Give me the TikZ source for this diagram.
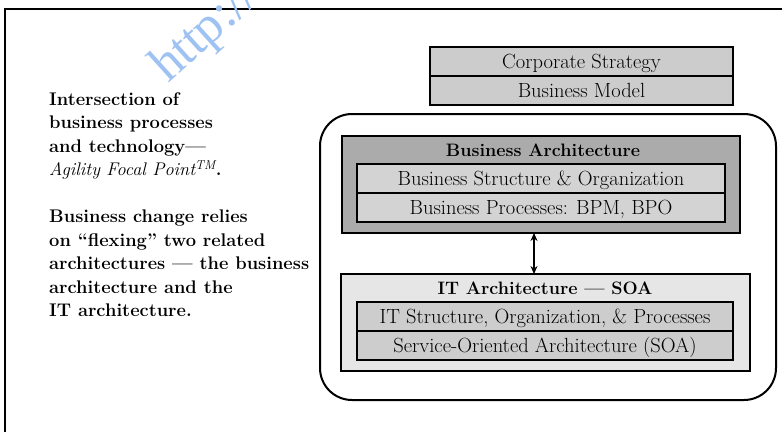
\documentclass[tikz,border=0pt]{standalone}
\usepackage{fontspec}
\newfontfamily\wmfont{Liberation Serif}
\usetikzlibrary{arrows.meta}
\definecolor{wm}{HTML}{9EC2F2}
\definecolor{cellgray}{HTML}{CCCCCC}
\definecolor{bagray}{HTML}{ABABAB}
\definecolor{barow}{HTML}{D3D3D3}
\definecolor{itgray}{HTML}{E6E6E6}
\definecolor{itrow}{HTML}{CDCDCD}
\tikzset{
  box/.style={draw=black, line width=1.2pt, inner sep=0pt, outer sep=0pt, anchor=north west},
  cell/.style={box, text height=14pt, text depth=0.5pt, font=\fontsize{20.5}{24}\selectfont},
  ttl/.style={inner sep=0pt, text height=13pt, text depth=0.5pt, font=\bfseries\fontsize{18}{22}\selectfont},
  frameline/.style={line width=1.3pt, draw=black},
  biarrow/.style={line width=1.3pt, {Stealth[length=8pt,width=7pt]}-{Stealth[length=8pt,width=7pt]}}
}
\begin{document}
\begin{tikzpicture}[x=1pt,y=-1pt]
\useasboundingbox (0,0) rectangle (782,432);
% frame
\coordinate (fbl) at (5,432);
\coordinate (ftl) at (5,9);
\coordinate (ftr) at (782,9);
\draw[frameline] (fbl) -- (ftl) -- (ftr);
% left text
\node[anchor=north west, align=left, inner sep=0pt,
      font=\bfseries\fontsize{18.3}{23.5}\selectfont] (lefttext) at (49,92)
{Intersection of\\
business processes\\
and technology—\\
{\mdseries\itshape Agility Focal Point\textsuperscript{TM}}.\\[23.5pt]
Business change relies\\
on “flexing” two related\\
architectures — the business\\
architecture and the\\
IT architecture.};
% top boxes
\node[cell, fill=cellgray, minimum width=303pt, minimum height=29pt] (cs) at (430,47) {Corporate Strategy};
\node[cell, fill=cellgray, minimum width=303pt, minimum height=29pt] (bm) at (430,76) {Business Model};
% rounded enclosure
\node[box, line width=2pt, rounded corners=32pt, minimum width=456pt, minimum height=286pt] (encl) at (320,114) {};
% business architecture
\node[box, fill=bagray, minimum width=398pt, minimum height=97pt] (ba) at (342,136) {};
\node[ttl] (batitle) at (543,150) {Business Architecture};
\node[cell, fill=barow, minimum width=368pt, minimum height=29pt] (bs) at (357,164) {Business Structure \& Organization};
\node[cell, fill=barow, minimum width=368pt, minimum height=29pt] (bp) at (357,193) {Business Processes: BPM, BPO};
% IT architecture
\node[box, fill=itgray, minimum width=409pt, minimum height=97pt] (it) at (341,274) {};
\node[ttl] (ittitle) at (545,288) {IT Architecture — SOA};
\node[cell, fill=itrow, minimum width=376pt, minimum height=29pt] (its) at (357,302) {IT Structure, Organization, \& Processes};
\node[cell, fill=itrow, minimum width=376pt, minimum height=29pt] (soa) at (357,331) {Service-Oriented Architecture (SOA)};
% arrow
\coordinate (ax) at (534,0);
\draw[biarrow] (ax |- ba.south) -- (ax |- it.north);
% watermark
\node[rotate=42, text=wm, anchor=base west, inner sep=0pt, font=\wmfont\fontsize{52}{52}\selectfont] (wmark) at (168,84) {http://};
\end{tikzpicture}
\end{document}
